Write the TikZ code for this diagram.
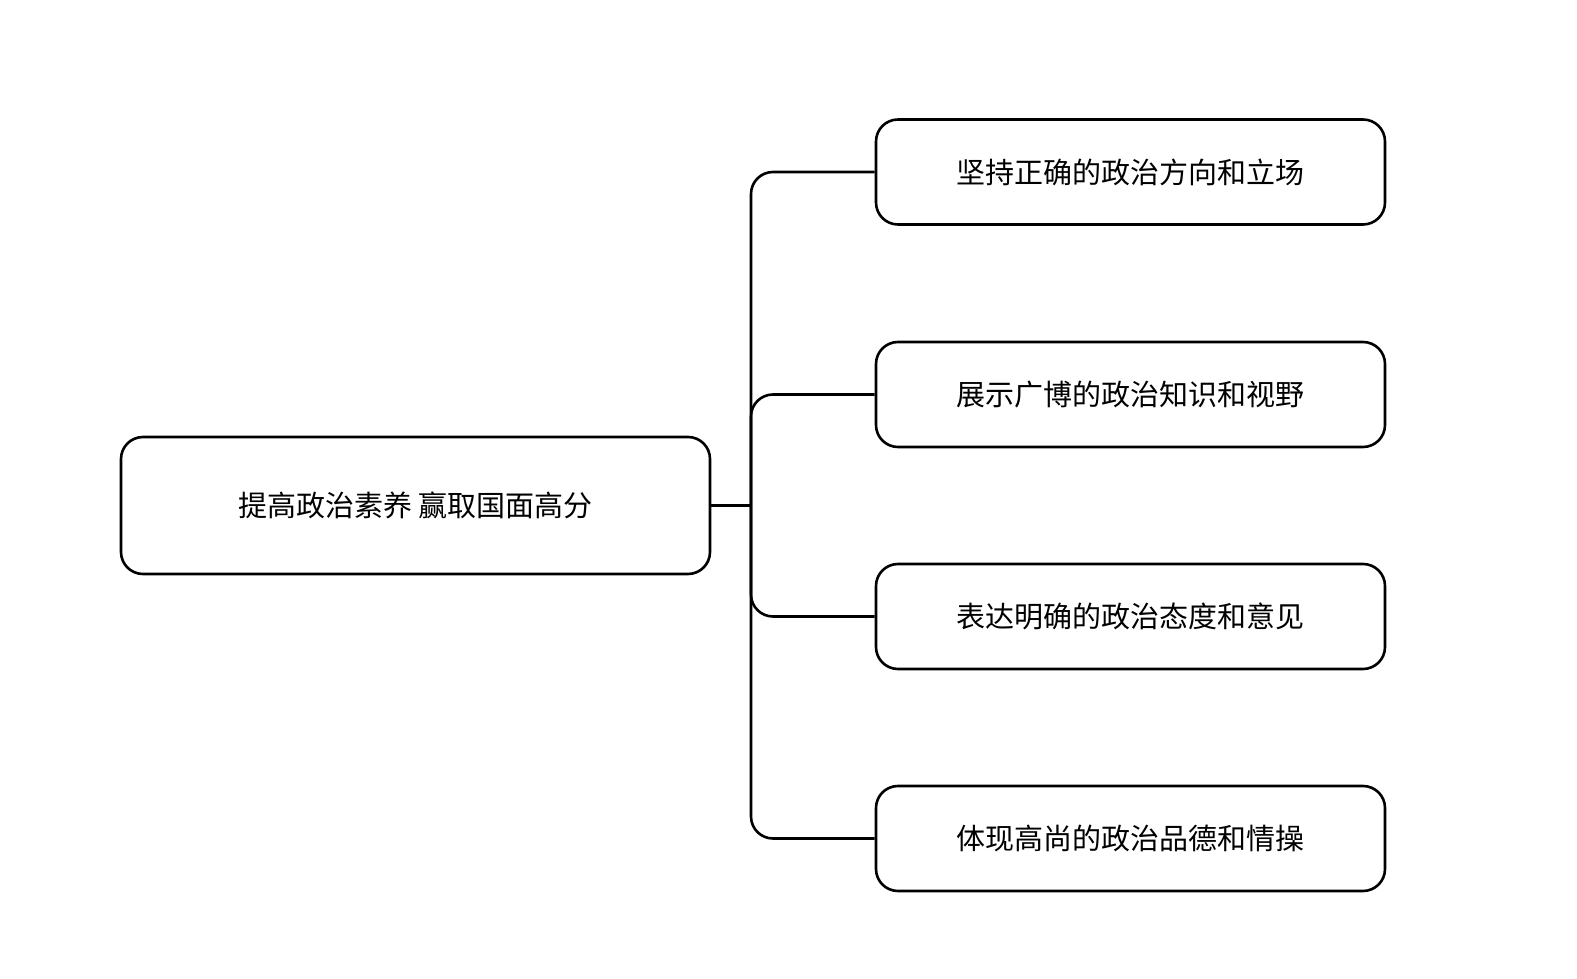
\documentclass[tikz,border=0pt]{standalone}
\usepackage{fontspec}
\newfontfamily\cjk{Noto Sans CJK SC}
\begin{document}
\begin{tikzpicture}[x=1pt,y=1pt,
  box/.style={draw=black,line width=2.6pt,rounded corners=22pt,font=\cjk\fontsize{29}{34}\selectfont,align=center,inner sep=0pt},
  link/.style={draw=black,line width=2.6pt,rounded corners=22pt}]
\useasboundingbox (0,0) rectangle (1577,978);
\node[box,minimum width=589pt,minimum height=137pt] (root) at (415.5,472.5) {提高政治素养 赢取国面高分};
\node[box,minimum width=509pt,minimum height=105pt] (c1) at (1130.5,806) {坚持正确的政治方向和立场};
\node[box,minimum width=509pt,minimum height=105pt] (c2) at (1130.5,583.5) {展示广博的政治知识和视野};
\node[box,minimum width=509pt,minimum height=105pt] (c3) at (1130.5,361.5) {表达明确的政治态度和意见};
\node[box,minimum width=509pt,minimum height=105pt] (c4) at (1130.5,139.5) {体现高尚的政治品德和情操};
\coordinate (j) at (751,472.5);
\draw[link] (root.east) -- (j);
\foreach \c in {c1,c2,c3,c4} \draw[link] (j) |- (\c.west);
\end{tikzpicture}
\end{document}
